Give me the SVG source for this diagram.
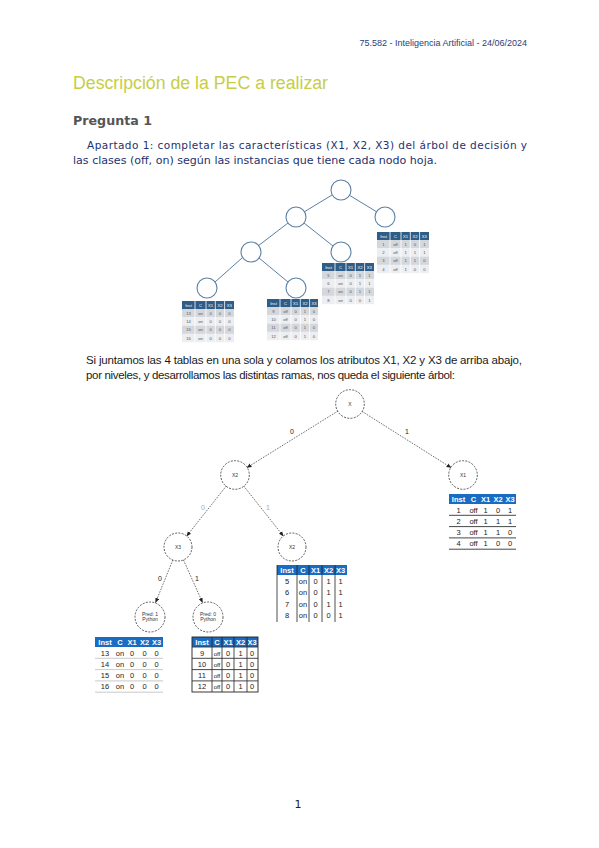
<svg xmlns="http://www.w3.org/2000/svg" width="599" height="848" viewBox="0 0 599 848">
<style>
.hdr{font-family:"Liberation Sans",Arial,sans-serif;font-size:9px;fill:#2a3d78}
.title{font-family:"Liberation Sans",Arial,sans-serif;font-size:18px;fill:#c6ce45}
.preg{font-family:"DejaVu Sans",Verdana,sans-serif;font-size:12.5px;font-weight:bold;fill:#555}
.p1{font-family:"DejaVu Sans",Verdana,sans-serif;font-size:10.5px;fill:#1d3270}
.p2{font-family:"Liberation Sans",Arial,sans-serif;font-size:11.5px;fill:#1a1a1a}
.tc{fill:none;stroke:#5b80a3;stroke-width:1.1}
.tl{stroke:#5b80a3;stroke-width:1}
.th{fill:#2e5d88}
.ra{fill:#d4d8dd}
.rb{fill:#eceef1}
.tw{stroke:#fff;stroke-width:0.8}
.tt{font-family:"Liberation Sans",Arial,sans-serif;font-size:4.2px;text-anchor:middle;fill:#555}
.tth{font-family:"Liberation Sans",Arial,sans-serif;font-size:4.2px;text-anchor:middle;fill:#fff}
.dc{fill:#fff;stroke:#333;stroke-width:0.8;stroke-dasharray:2,1.3}
.de{stroke:#333;stroke-width:0.7;stroke-dasharray:1.6,1.2;fill:none}
.el{font-family:"Liberation Sans",Arial,sans-serif;font-size:7px;fill:#222;text-anchor:middle}
.elg{font-family:"Liberation Sans",Arial,sans-serif;font-size:7px;fill:#aaa;text-anchor:middle}
.nl{font-family:"Liberation Sans",Arial,sans-serif;font-size:5px;fill:#333;text-anchor:middle}
.bh{fill:#1a6cc2}
.bht{font-family:"Liberation Sans",Arial,sans-serif;font-size:7.5px;font-weight:bold;fill:#fff;text-anchor:middle}
.bt{font-family:"Liberation Sans",Arial,sans-serif;font-size:7.5px;fill:#222;text-anchor:middle}
.sm{font-size:6px}
.hl{stroke:#333;stroke-width:0.9}
.hlg{stroke:#bbb;stroke-width:0.8}
.vl{stroke:#222;stroke-width:0.8}
.pn{font-family:"DejaVu Sans",Verdana,sans-serif;font-size:11px;fill:#222;text-anchor:middle}
</style>
<defs>
<marker id="ah" markerWidth="5" markerHeight="5" refX="4.5" refY="2.5" orient="auto" markerUnits="userSpaceOnUse">
<path d="M0,0.5 L5,2.5 L0,4.5 z" fill="#222"/>
</marker>
</defs>
<rect width="599" height="848" fill="#fff"/>

<text class="hdr" x="527" y="46" text-anchor="end">75.582 - Inteligencia Artificial - 24/06/2024</text>
<text class="title" x="73" y="89" textLength="255" lengthAdjust="spacingAndGlyphs">Descripción de la PEC a realizar</text>
<text class="preg" x="73" y="125" textLength="79" lengthAdjust="spacingAndGlyphs">Pregunta 1</text>
<text class="p1" x="87" y="149" textLength="440" lengthAdjust="spacing">Apartado 1: completar las características (X1, X2, X3) del árbol de decisión y</text>
<text class="p1" x="73" y="164" textLength="364" lengthAdjust="spacingAndGlyphs">las clases (off, on) según las instancias que tiene cada nodo hoja.</text>

<!-- Top tree -->
<g id="top-edges">
<line class="tl" x1="332" y1="195" x2="304" y2="212"/>
<line class="tl" x1="349" y1="195" x2="377" y2="212"/>
<line class="tl" x1="288" y1="223" x2="258" y2="246"/>
<line class="tl" x1="304" y1="223" x2="333" y2="246"/>
<line class="tl" x1="242" y1="258" x2="215" y2="282"/>
<line class="tl" x1="259" y1="258" x2="288" y2="282"/>
</g>
<g id="top-n1"><circle class="tc" cx="341" cy="190" r="10"/></g>
<g id="top-n2"><circle class="tc" cx="296" cy="217" r="10"/></g>
<g id="top-n3"><circle class="tc" cx="385" cy="217" r="10"/></g>
<g id="top-n4"><circle class="tc" cx="251" cy="252" r="10"/></g>
<g id="top-n5"><circle class="tc" cx="341" cy="252" r="10"/></g>
<g id="top-n6"><circle class="tc" cx="207" cy="288" r="10"/></g>
<g id="top-n7"><circle class="tc" cx="296" cy="288" r="10"/></g>

<g id="top-tA" transform="translate(377,232)">
<rect class="th" width="52" height="8"/>
<rect class="ra" y="8" width="52" height="8.3"/><rect class="rb" y="16.3" width="52" height="8.3"/><rect class="ra" y="24.6" width="52" height="8.3"/><rect class="rb" y="32.9" width="52" height="8.3"/>
<line class="tw" x1="13" y1="0" x2="13" y2="41.2"/><line class="tw" x1="24" y1="0" x2="24" y2="41.2"/><line class="tw" x1="33.3" y1="0" x2="33.3" y2="41.2"/><line class="tw" x1="42.6" y1="0" x2="42.6" y2="41.2"/>
<text class="tth" y="5.6"><tspan x="6.5">Inst</tspan><tspan x="18.5">C</tspan><tspan x="28.6">X1</tspan><tspan x="38">X2</tspan><tspan x="47.3">X3</tspan></text>
<text class="tt" y="13.8"><tspan x="6.5">1</tspan><tspan x="18.5">off</tspan><tspan x="28.6">1</tspan><tspan x="38">0</tspan><tspan x="47.3">1</tspan></text>
<text class="tt" y="22.1"><tspan x="6.5">2</tspan><tspan x="18.5">off</tspan><tspan x="28.6">1</tspan><tspan x="38">1</tspan><tspan x="47.3">1</tspan></text>
<text class="tt" y="30.4"><tspan x="6.5">3</tspan><tspan x="18.5">off</tspan><tspan x="28.6">1</tspan><tspan x="38">1</tspan><tspan x="47.3">0</tspan></text>
<text class="tt" y="38.7"><tspan x="6.5">4</tspan><tspan x="18.5">off</tspan><tspan x="28.6">1</tspan><tspan x="38">0</tspan><tspan x="47.3">0</tspan></text>
</g>
<g id="top-tB" transform="translate(322,263)">
<rect class="th" width="52" height="8"/>
<rect class="ra" y="8" width="52" height="8.3"/><rect class="rb" y="16.3" width="52" height="8.3"/><rect class="ra" y="24.6" width="52" height="8.3"/><rect class="rb" y="32.9" width="52" height="8.3"/>
<line class="tw" x1="13" y1="0" x2="13" y2="41.2"/><line class="tw" x1="24" y1="0" x2="24" y2="41.2"/><line class="tw" x1="33.3" y1="0" x2="33.3" y2="41.2"/><line class="tw" x1="42.6" y1="0" x2="42.6" y2="41.2"/>
<text class="tth" y="5.6"><tspan x="6.5">Inst</tspan><tspan x="18.5">C</tspan><tspan x="28.6">X1</tspan><tspan x="38">X2</tspan><tspan x="47.3">X3</tspan></text>
<text class="tt" y="13.8"><tspan x="6.5">5</tspan><tspan x="18.5">on</tspan><tspan x="28.6">0</tspan><tspan x="38">1</tspan><tspan x="47.3">1</tspan></text>
<text class="tt" y="22.1"><tspan x="6.5">6</tspan><tspan x="18.5">on</tspan><tspan x="28.6">0</tspan><tspan x="38">1</tspan><tspan x="47.3">1</tspan></text>
<text class="tt" y="30.4"><tspan x="6.5">7</tspan><tspan x="18.5">on</tspan><tspan x="28.6">0</tspan><tspan x="38">1</tspan><tspan x="47.3">1</tspan></text>
<text class="tt" y="38.7"><tspan x="6.5">8</tspan><tspan x="18.5">on</tspan><tspan x="28.6">0</tspan><tspan x="38">0</tspan><tspan x="47.3">1</tspan></text>
</g>
<g id="top-tC" transform="translate(182,301)">
<rect class="th" width="52" height="8"/>
<rect class="ra" y="8" width="52" height="8.3"/><rect class="rb" y="16.3" width="52" height="8.3"/><rect class="ra" y="24.6" width="52" height="8.3"/><rect class="rb" y="32.9" width="52" height="8.3"/>
<line class="tw" x1="13" y1="0" x2="13" y2="41.2"/><line class="tw" x1="24" y1="0" x2="24" y2="41.2"/><line class="tw" x1="33.3" y1="0" x2="33.3" y2="41.2"/><line class="tw" x1="42.6" y1="0" x2="42.6" y2="41.2"/>
<text class="tth" y="5.6"><tspan x="6.5">Inst</tspan><tspan x="18.5">C</tspan><tspan x="28.6">X1</tspan><tspan x="38">X2</tspan><tspan x="47.3">X3</tspan></text>
<text class="tt" y="13.8"><tspan x="6.5">13</tspan><tspan x="18.5">on</tspan><tspan x="28.6">0</tspan><tspan x="38">0</tspan><tspan x="47.3">0</tspan></text>
<text class="tt" y="22.1"><tspan x="6.5">14</tspan><tspan x="18.5">on</tspan><tspan x="28.6">0</tspan><tspan x="38">0</tspan><tspan x="47.3">0</tspan></text>
<text class="tt" y="30.4"><tspan x="6.5">15</tspan><tspan x="18.5">on</tspan><tspan x="28.6">0</tspan><tspan x="38">0</tspan><tspan x="47.3">0</tspan></text>
<text class="tt" y="38.7"><tspan x="6.5">16</tspan><tspan x="18.5">on</tspan><tspan x="28.6">0</tspan><tspan x="38">0</tspan><tspan x="47.3">0</tspan></text>
</g>
<g id="top-tD" transform="translate(267,299)">
<rect class="th" width="51" height="8"/>
<rect class="ra" y="8" width="51" height="8.3"/><rect class="rb" y="16.3" width="51" height="8.3"/><rect class="ra" y="24.6" width="51" height="8.3"/><rect class="rb" y="32.9" width="51" height="8.3"/>
<line class="tw" x1="13" y1="0" x2="13" y2="41.2"/><line class="tw" x1="24" y1="0" x2="24" y2="41.2"/><line class="tw" x1="33.3" y1="0" x2="33.3" y2="41.2"/><line class="tw" x1="42.6" y1="0" x2="42.6" y2="41.2"/>
<text class="tth" y="5.6"><tspan x="6.5">Inst</tspan><tspan x="18.5">C</tspan><tspan x="28.6">X1</tspan><tspan x="38">X2</tspan><tspan x="47">X3</tspan></text>
<text class="tt" y="13.8"><tspan x="6.5">9</tspan><tspan x="18.5">off</tspan><tspan x="28.6">0</tspan><tspan x="38">1</tspan><tspan x="47">0</tspan></text>
<text class="tt" y="22.1"><tspan x="6.5">10</tspan><tspan x="18.5">off</tspan><tspan x="28.6">0</tspan><tspan x="38">1</tspan><tspan x="47">0</tspan></text>
<text class="tt" y="30.4"><tspan x="6.5">11</tspan><tspan x="18.5">off</tspan><tspan x="28.6">0</tspan><tspan x="38">1</tspan><tspan x="47">0</tspan></text>
<text class="tt" y="38.7"><tspan x="6.5">12</tspan><tspan x="18.5">off</tspan><tspan x="28.6">0</tspan><tspan x="38">1</tspan><tspan x="47">0</tspan></text>
</g>

<text class="p2" x="86" y="364" textLength="436" lengthAdjust="spacing">Si juntamos las 4 tablas en una sola y colamos los atributos X1, X2 y X3 de arriba abajo,</text>
<text class="p2" x="86" y="379" textLength="369" lengthAdjust="spacing">por niveles, y desarrollamos las distintas ramas, nos queda el siguiente árbol:</text>

<!-- Second tree -->
<g id="edges">
<line class="de" x1="338" y1="411" x2="247" y2="467.6" marker-end="url(#ah)"/>
<line class="de" x1="362" y1="411.4" x2="451" y2="467.6" marker-end="url(#ah)"/>
<line class="de" x1="226.3" y1="486" x2="186.7" y2="536" marker-end="url(#ah)"/>
<line class="de" x1="243.7" y1="486" x2="283.3" y2="536" marker-end="url(#ah)"/>
<line class="de" x1="172.8" y1="560" x2="155.6" y2="602.5" marker-end="url(#ah)"/>
<line class="de" x1="183.5" y1="560" x2="202.5" y2="602.5" marker-end="url(#ah)"/>
<text class="el" x="292" y="434">0</text>
<text class="el" x="407" y="434">1</text>
<text class="elg" x="203" y="510">0</text>
<text class="elg" x="268" y="510">1</text>
<text class="el" x="160" y="581">0</text>
<text class="el" x="197" y="581">1</text>
</g>
<g id="n-root"><circle class="dc" cx="350" cy="404" r="14.3"/><text class="nl" x="350" y="406">X</text></g>
<g id="n-left"><circle class="dc" cx="235" cy="475" r="14.3"/><text class="nl" x="235" y="477">X2</text></g>
<g id="n-right"><circle class="dc" cx="463" cy="475" r="14.3"/><text class="nl" x="463" y="477">X1</text></g>
<g id="n-ll"><circle class="dc" cx="178" cy="547" r="14"/><text class="nl" x="178" y="549">X3</text></g>
<g id="n-lr"><circle class="dc" cx="292" cy="547" r="14"/><text class="nl" x="292" y="549">X2</text></g>
<g id="n-lll"><circle class="dc" cx="150" cy="617" r="15"/><text class="nl" x="150" y="616">Pred: 1</text><text class="nl" x="150" y="621">Python</text></g>
<g id="n-llr"><circle class="dc" cx="208" cy="617" r="15"/><text class="nl" x="208" y="616">Pred: 0</text><text class="nl" x="208" y="621">Python</text></g>

<g id="t-right" transform="translate(449,494)">
<rect class="bh" width="67" height="10"/>
<text class="bht" y="7.6"><tspan x="9.5">Inst</tspan><tspan x="24.5">C</tspan><tspan x="36.5">X1</tspan><tspan x="49">X2</tspan><tspan x="61">X3</tspan></text>
<text class="bt" y="18.5"><tspan x="9.5">1</tspan><tspan x="24.5">off</tspan><tspan x="36.5">1</tspan><tspan x="49">0</tspan><tspan x="61">1</tspan></text>
<line class="hl" x1="0" y1="21.3" x2="67" y2="21.3"/>
<text class="bt" y="29.8"><tspan x="9.5">2</tspan><tspan x="24.5">off</tspan><tspan x="36.5">1</tspan><tspan x="49">1</tspan><tspan x="61">1</tspan></text>
<line class="hl" x1="0" y1="32.6" x2="67" y2="32.6"/>
<text class="bt" y="41.1"><tspan x="9.5">3</tspan><tspan x="24.5">off</tspan><tspan x="36.5">1</tspan><tspan x="49">1</tspan><tspan x="61">0</tspan></text>
<line class="hl" x1="0" y1="43.9" x2="67" y2="43.9"/>
<text class="bt" y="52.4"><tspan x="9.5">4</tspan><tspan x="24.5">off</tspan><tspan x="36.5">1</tspan><tspan x="49">0</tspan><tspan x="61">0</tspan></text>
<line class="hl" x1="0" y1="55.2" x2="67" y2="55.2"/>
</g>

<g id="t-mid" transform="translate(277,565)">
<rect class="bh" width="70" height="10"/>
<text class="bht" y="7.6"><tspan x="10">Inst</tspan><tspan x="26">C</tspan><tspan x="38.5">X1</tspan><tspan x="51.5">X2</tspan><tspan x="63.5">X3</tspan></text>
<line class="vl" x1="0" y1="0" x2="0" y2="57"/><line class="vl" x1="20" y1="0" x2="20" y2="57"/><line class="vl" x1="32" y1="0" x2="32" y2="57"/><line class="vl" x1="45" y1="0" x2="45" y2="57"/><line class="vl" x1="58" y1="0" x2="58" y2="57"/>
<text class="bt" y="18.5"><tspan x="10">5</tspan><tspan x="26">on</tspan><tspan x="38.5">0</tspan><tspan x="51.5">1</tspan><tspan x="63.5">1</tspan></text>
<text class="bt" y="30"><tspan x="10">6</tspan><tspan x="26">on</tspan><tspan x="38.5">0</tspan><tspan x="51.5">1</tspan><tspan x="63.5">1</tspan></text>
<text class="bt" y="41.5"><tspan x="10">7</tspan><tspan x="26">on</tspan><tspan x="38.5">0</tspan><tspan x="51.5">1</tspan><tspan x="63.5">1</tspan></text>
<text class="bt" y="53"><tspan x="10">8</tspan><tspan x="26">on</tspan><tspan x="38.5">0</tspan><tspan x="51.5">0</tspan><tspan x="63.5">1</tspan></text>
</g>

<g id="t-ll" transform="translate(95,637)">
<rect class="bh" width="68" height="10"/>
<text class="bht" y="7.6"><tspan x="10">Inst</tspan><tspan x="25">C</tspan><tspan x="37">X1</tspan><tspan x="49.5">X2</tspan><tspan x="61.5">X3</tspan></text>
<text class="bt" y="18.5"><tspan x="10">13</tspan><tspan x="25">on</tspan><tspan x="37">0</tspan><tspan x="49.5">0</tspan><tspan x="61.5">0</tspan></text>
<line class="hlg" x1="0" y1="21.3" x2="68" y2="21.3"/>
<text class="bt" y="29.8"><tspan x="10">14</tspan><tspan x="25">on</tspan><tspan x="37">0</tspan><tspan x="49.5">0</tspan><tspan x="61.5">0</tspan></text>
<line class="hlg" x1="0" y1="32.6" x2="68" y2="32.6"/>
<text class="bt" y="41.1"><tspan x="10">15</tspan><tspan x="25">on</tspan><tspan x="37">0</tspan><tspan x="49.5">0</tspan><tspan x="61.5">0</tspan></text>
<line class="hlg" x1="0" y1="43.9" x2="68" y2="43.9"/>
<text class="bt" y="52.4"><tspan x="10">16</tspan><tspan x="25">on</tspan><tspan x="37">0</tspan><tspan x="49.5">0</tspan><tspan x="61.5">0</tspan></text>
<line class="hlg" x1="0" y1="55.2" x2="68" y2="55.2"/>
</g>

<g id="t-lr" transform="translate(192,637)">
<rect class="bh" width="66" height="10"/>
<text class="bht" y="7.6"><tspan x="10">Inst</tspan><tspan x="25">C</tspan><tspan x="36">X1</tspan><tspan x="48.5">X2</tspan><tspan x="60">X3</tspan></text>
<rect x="0" y="0" width="66" height="55" fill="none" stroke="#222" stroke-width="0.9"/>
<line class="vl" x1="20" y1="0" x2="20" y2="55"/><line class="vl" x1="30" y1="0" x2="30" y2="55"/><line class="vl" x1="42" y1="0" x2="42" y2="55"/><line class="vl" x1="55" y1="0" x2="55" y2="55"/>
<line class="hl" x1="0" y1="10" x2="66" y2="10"/><line class="hl" x1="0" y1="21.3" x2="66" y2="21.3"/><line class="hl" x1="0" y1="32.6" x2="66" y2="32.6"/><line class="hl" x1="0" y1="43.9" x2="66" y2="43.9"/>
<text class="bt" y="18.5"><tspan x="10">9</tspan><tspan x="25" class="sm">off</tspan><tspan x="36">0</tspan><tspan x="48.5">1</tspan><tspan x="60">0</tspan></text>
<text class="bt" y="29.8"><tspan x="10">10</tspan><tspan x="25" class="sm">off</tspan><tspan x="36">0</tspan><tspan x="48.5">1</tspan><tspan x="60">0</tspan></text>
<text class="bt" y="41.1"><tspan x="10">11</tspan><tspan x="25" class="sm">off</tspan><tspan x="36">0</tspan><tspan x="48.5">1</tspan><tspan x="60">0</tspan></text>
<text class="bt" y="52.4"><tspan x="10">12</tspan><tspan x="25" class="sm">off</tspan><tspan x="36">0</tspan><tspan x="48.5">1</tspan><tspan x="60">0</tspan></text>
</g>

<text class="pn" x="298" y="808">1</text>
</svg>
